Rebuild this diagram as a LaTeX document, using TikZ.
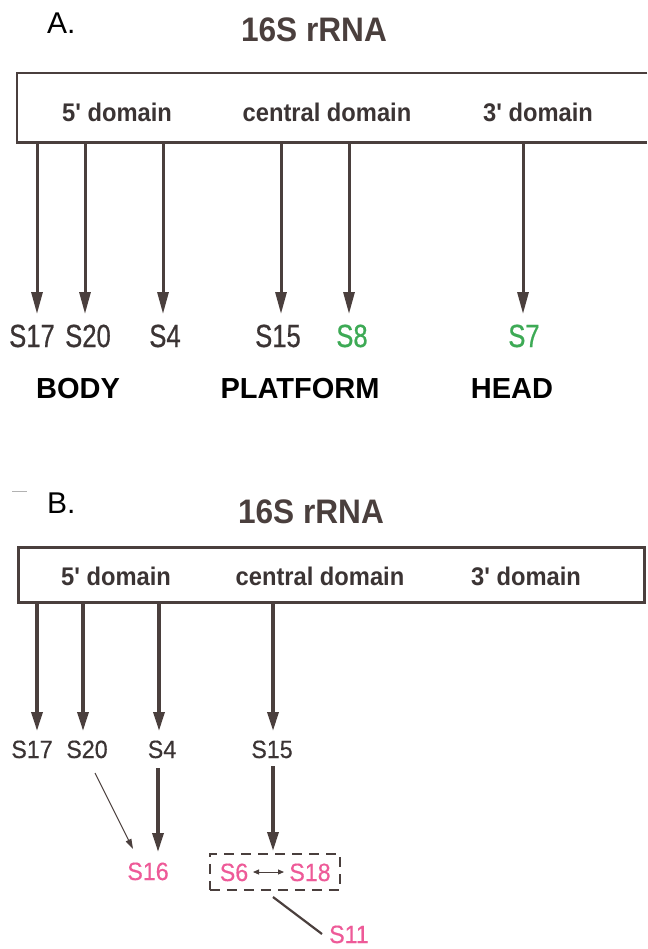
\documentclass[tikz,border=0pt]{standalone}
\usepackage{fontspec}
\setmainfont{Liberation Sans}
\newfontfamily\condfont{Liberation Sans}[FakeStretch=0.8, FakeBold=0.6]
\newfontfamily\semifont{Liberation Sans}[FakeStretch=0.93]
\newfontfamily\protfont{Liberation Sans}[FakeStretch=0.93, FakeBold=0.4]
\usetikzlibrary{arrows.meta}
\definecolor{ink}{HTML}{4A3F3D}
\definecolor{txt}{HTML}{3B3434}
\definecolor{grn}{HTML}{3DAA55}
\definecolor{pnk}{HTML}{EE5A98}
\tikzset{
  panelletter/.style={font=\fontsize{30}{30}\selectfont, anchor=base west, inner sep=0pt, text=black},
  titletext/.style={font=\semifont\bfseries\fontsize{34}{34}\selectfont, anchor=base, inner sep=0pt, text=ink},
  domaintext/.style={font=\semifont\bfseries\fontsize{25.5}{26}\selectfont, anchor=base, inner sep=0pt, text=txt},
  protA/.style={font=\condfont\fontsize{32}{32}\selectfont, anchor=base, inner sep=0pt, text=txt},
  protB/.style={font=\protfont\fontsize{25}{25}\selectfont, anchor=base, inner sep=0pt, text=txt},
  regiontext/.style={font=\bfseries\fontsize{29}{29}\selectfont, anchor=base, inner sep=0pt, text=black},
  boxline/.style={draw=ink, line width=2.5pt},
  bigarr/.style={draw=ink, line width=3pt, -{Triangle[length=22pt,width=11pt]}},
  midarr/.style={draw=ink, line width=3.5pt, -{Triangle[length=19pt,width=11pt]}},
  thinarr/.style={draw=ink, line width=0.9pt, -{Triangle[length=10pt,width=6pt]}},
  dblarr/.style={draw=ink, line width=0.9pt, {Triangle[length=6pt,width=5pt]}-{Triangle[length=6pt,width=5pt]}},
}
\begin{document}
\begin{tikzpicture}[x=1pt,y=-1pt]
\useasboundingbox[fill=white] (0,0) rectangle (647,949);

% ---------------- Panel A ----------------
\node[panelletter] (lblA) at (47,34) {A.};
\node[titletext] (titleA) at (314,42) {16S rRNA};
\node[minimum width=630pt, minimum height=69pt, anchor=north west, inner sep=0pt] (boxA) at (17,73) {};
\draw[boxline] (boxA.north east) -- (boxA.north west) -- (boxA.south west) -- (boxA.south east);
\node[domaintext] (d5A) at (117,122) {5' domain};
\node[domaintext] (dcA) at (327,122) {central domain};
\node[domaintext] (d3A) at (538,122) {3' domain};

\node[protA] (s17A) at (32,347) {S17};
\node[protA] (s20A) at (88,347) {S20};
\node[protA] (s4A) at (165,347) {S4};
\node[protA] (s15A) at (278,347) {S15};
\node[protA, text=grn] (s8A) at (352,347) {S8};
\node[protA, text=grn] (s7A) at (524,347) {S7};

\coordinate (tA1) at (37,314);
\coordinate (tA2) at (85,314);
\coordinate (tA3) at (163,314);
\coordinate (tA4) at (281,314);
\coordinate (tA5) at (349,314);
\coordinate (tA6) at (523,314);
\foreach \t in {tA1,tA2,tA3,tA4,tA5,tA6}
  \draw[bigarr] (\t |- boxA.south) -- (\t);

\node[regiontext] (body) at (78,398) {BODY};
\node[regiontext] (platform) at (300,398) {PLATFORM};
\node[regiontext] (head) at (512,398) {HEAD};

% ---------------- Panel B ----------------
\coordinate (dashL) at (12,491);
\coordinate (dashR) at (27,491);
\draw[black!30, line width=1pt] (dashL) -- (dashR);
\node[panelletter] (lblB) at (47,513) {B.};
\node[titletext] (titleB) at (311,523) {16S rRNA};
\node[boxline, minimum width=626pt, minimum height=55pt, anchor=north west, inner sep=0pt] (boxB) at (17,546) {};
\node[domaintext] (d5B) at (116,585) {5' domain};
\node[domaintext] (dcB) at (320,585) {central domain};
\node[domaintext] (d3B) at (526,585) {3' domain};

\node[protB] (s17B) at (32,758) {S17};
\node[protB] (s20B) at (87,758) {S20};
\node[protB] (s4B) at (162,758) {S4};
\node[protB] (s15B) at (272,758) {S15};

\coordinate (tB1) at (37,731);
\coordinate (tB2) at (83,731);
\coordinate (tB3) at (159,731);
\coordinate (tB4) at (273,731);
\foreach \t in {tB1,tB2,tB3,tB4}
  \draw[midarr] (\t |- boxB.south) -- (\t);

\node[protB, text=pnk] (s16B) at (148,880) {S16};
\node[protB, text=pnk] (s6B) at (234,881) {S6};
\node[protB, text=pnk] (s18B) at (310,881) {S18};
\node[protB, text=pnk] (s11B) at (349,943) {S11};
\node[draw=ink, line width=1.5pt, dash pattern=on 10pt off 7pt, minimum width=130pt, minimum height=36pt, anchor=north west, inner sep=0pt] (grp) at (209,853) {};

\coordinate (a20s) at (95,773);
\coordinate (a20e) at (133,849);
\draw[thinarr] (a20s) -- (a20e);
\coordinate (a4s) at (158,768);
\coordinate (a4e) at (158,852);
\draw[midarr] (a4s) -- (a4e);
\coordinate (a15s) at (273,766);
\coordinate (a15e) at (273,851);
\draw[midarr] (a15s) -- (a15e);
\coordinate (dbs) at (253,872);
\coordinate (dbe) at (284,872);
\draw[dblarr] (dbs) -- (dbe);
\coordinate (l11s) at (273,897);
\coordinate (l11e) at (322,934);
\draw[ink, line width=2.2pt] (l11s) -- (l11e);
\end{tikzpicture}
\end{document}
